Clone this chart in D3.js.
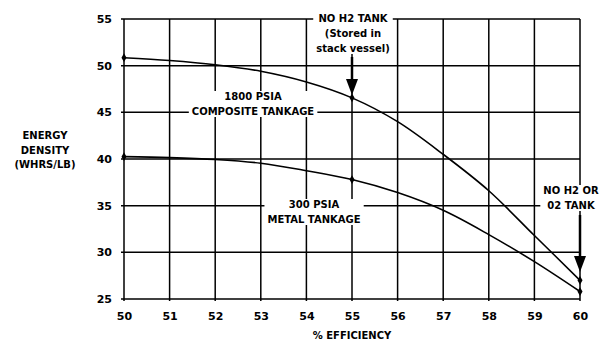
<!DOCTYPE html>
<html><head><meta charset="utf-8">
<script src="https://cdn.jsdelivr.net/npm/d3@7"></script>
<style>
html,body{margin:0;padding:0;background:#fff;}
svg{display:block;}
text{font-family:"DejaVu Sans",sans-serif;font-weight:bold;fill:#000;}
</style></head>
<body>
<svg id="c" width="602" height="341"></svg>
<script>
const efficiency = [50,51,52,53,54,55,56,57,58,59,60];
const composite1800 = [50.85,50.55,50.1,49.4,48.25,46.55,44.0,40.5,36.6,31.8,27.0];
const metal300 = [40.25,40.15,39.95,39.55,38.75,37.8,36.4,34.5,31.9,29.0,25.8];
const markerX = [50,55,60];
const xTicks = [50,51,52,53,54,55,56,57,58,59,60];
const yTicks = [25,30,35,40,45,50,55];
const yTitle = ["ENERGY","DENSITY","(WHRS/LB)"];
const xTitle = "% EFFICIENCY";

const svg = d3.select("#c");
const x = d3.scaleLinear().domain([50,60]).range([124,580]);
const y = d3.scaleLinear().domain([25,55]).range([299,19]);

// grid
const g = svg.append("g").attr("stroke","#000").attr("stroke-width",1.5);
xTicks.forEach(t=>g.append("line").attr("x1",x(t)).attr("x2",x(t)).attr("y1",y(55)).attr("y2",y(25)+2));
yTicks.forEach(t=>g.append("line").attr("x1",x(50)-3).attr("x2",x(60)).attr("y1",y(t)).attr("y2",y(t)));

const xAxis = svg.append("g").attr("transform",`translate(0,${y(25)})`)
  .call(d3.axisBottom(x).tickValues(xTicks).tickSize(0).tickPadding(13).tickFormat(d3.format("d")));
xAxis.select(".domain").remove();
xAxis.selectAll("text").attr("font-size",11).attr("font-family","DejaVu Sans").attr("font-weight","bold");
const yAxis = svg.append("g").attr("transform",`translate(${x(50)},0)`)
  .call(d3.axisLeft(y).tickValues(yTicks).tickSize(0).tickPadding(12).tickFormat(d3.format("d")));
yAxis.select(".domain").remove();
yAxis.selectAll("text").attr("font-size",11).attr("font-family","DejaVu Sans").attr("font-weight","bold");

svg.append("text").attr("x",x(55)).attr("y",339).attr("text-anchor","middle").attr("font-size",10).text(xTitle);
yTitle.forEach((t,i)=>svg.append("text").attr("x",45).attr("y",139+i*14.5).attr("text-anchor","middle").attr("font-size",10).text(t));

// curves
const line = d3.line().x((d,i)=>x(efficiency[i])).y(d=>y(d)).curve(d3.curveCatmullRom.alpha(0.5));
[composite1800, metal300].forEach(s=>{
  svg.append("path").attr("d",line(s)).attr("fill","none").attr("stroke","#000").attr("stroke-width",1.6);
  markerX.forEach(m=>{
    const i = efficiency.indexOf(m);
    svg.append("path").attr("d",d3.symbol(d3.symbolDiamond,22)()).attr("transform",`translate(${x(m)},${y(s[i])})`).attr("fill","#000");
  });
});

// labels with white background
function label(lines, cx, cy, size, lh){
  const grp = svg.append("g");
  const rect = grp.append("rect").attr("fill","#fff");
  lines.forEach((t,i)=>grp.append("text").attr("x",cx).attr("y",cy+i*lh).attr("text-anchor","middle").attr("dominant-baseline","middle").attr("font-size",size).text(t));
  const b = grp.node().getBBox();
  rect.attr("x",b.x-3).attr("y",b.y).attr("width",b.width+6).attr("height",b.height);
}
label(["1800 PSIA","COMPOSITE TANKAGE"], 253, 97, 10, 15);
label(["300 PSIA","METAL TANKAGE"], 314, 205, 10, 15);
label(["NO H2 TANK","(Stored in","stack vessel)"], 353, 19, 10, 15);
label(["NO H2 OR","02 TANK"], 571, 191, 10, 15);

// arrows
function arrow(xv, y1, y2){
  svg.append("line").attr("x1",x(xv)).attr("x2",x(xv)).attr("y1",y1).attr("y2",y2-14).attr("stroke","#000").attr("stroke-width",2.5);
  svg.append("path").attr("d",`M${x(xv)-6},${y2-16}L${x(xv)+6},${y2-16}L${x(xv)},${y2}Z`).attr("fill","#000");
}
arrow(55, 57, 95);
arrow(60, 215, 272);
</script>
</body></html>
